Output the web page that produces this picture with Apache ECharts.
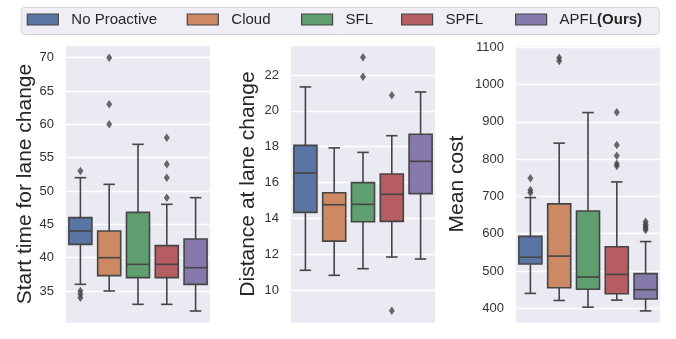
<!DOCTYPE html>
<html>
<head>
<meta charset="utf-8">
<script src="https://cdn.jsdelivr.net/npm/echarts@6/dist/echarts.min.js"></script>
<style>
  html, body { margin: 0; padding: 0; background: #fff; }
  #chart { width: 676px; height: 339px; }
</style>
</head>
<body>
<div id="chart"></div>
<script>
// methods (hue order)
var methods = ["No Proactive", "Cloud", "SFL", "SPFL", "APFL(Ours)"];
var colors = ["#5875A4", "#CC8963", "#5F9E6E", "#B55D60", "#857AAB"];

// each box: [lower whisker, Q1, median, Q3, upper whisker]
var startTimeBoxes = [
  [36, 42, 44, 46, 52],
  [35, 37.3, 40, 44, 51],
  [33, 37, 39, 46.8, 57],
  [33, 37, 39, 41.8, 48],
  [32, 36, 38.5, 42.8, 49]
];
var startTimeOutliers = [[53, 35, 34.5, 34], [70, 63, 60], [], [58, 54, 52, 49], []];

var distanceBoxes = [
  [11.1, 14.33, 16.53, 18.07, 21.33],
  [10.82, 12.73, 14.76, 15.43, 17.93],
  [11.19, 13.81, 14.78, 15.99, 17.68],
  [11.84, 13.83, 15.34, 16.47, 18.61],
  [11.73, 15.38, 17.18, 18.69, 21.05]
];
var distanceOutliers = [[], [], [22.99, 21.9], [20.87, 8.85], []];

var costBoxes = [
  [440, 519, 537, 593, 697],
  [421, 455, 540, 680, 843],
  [403, 451, 484, 661, 925],
  [422, 439, 491, 565, 739],
  [393, 425, 450, 493, 579]
];
var costOutliers = [[749, 717, 710], [1072, 1063], [], [926, 838, 809, 788, 782], [632, 625, 620, 615, 610]];

var yTitles = ["Start time for lane change", "Distance at lane change", "Mean cost"];
var yRanges = [[30.2, 71.9, 8, 5], [8.16, 23.67, 8, 2], [360.6, 1106.2, 7, 100]];
var nameGaps = [30, 32, 48];
var gridLefts = [66, 291, 516];

var lineColor = "#454545";
var fontFamily = "'Liberation Sans', Arial, sans-serif";

var chart = echarts.init(document.getElementById("chart"));

function renderBox(params, api) {
  var x = api.value(0);
  var band = api.size([1, 0])[0];
  var half = band * 0.4;
  var cap = band * 0.2;
  var lo = api.coord([x, api.value(1)]);
  var q1 = api.coord([x, api.value(2)]);
  var med = api.coord([x, api.value(3)]);
  var q3 = api.coord([x, api.value(4)]);
  var hi = api.coord([x, api.value(5)]);
  var cx = lo[0];
  var ls = { stroke: lineColor, lineWidth: 1.6 };
  return {
    type: "group",
    children: [
      { type: "line", shape: { x1: cx, y1: hi[1], x2: cx, y2: q3[1] }, style: ls },
      { type: "line", shape: { x1: cx, y1: q1[1], x2: cx, y2: lo[1] }, style: ls },
      { type: "line", shape: { x1: cx - cap, y1: hi[1], x2: cx + cap, y2: hi[1] }, style: ls },
      { type: "line", shape: { x1: cx - cap, y1: lo[1], x2: cx + cap, y2: lo[1] }, style: ls },
      { type: "rect", shape: { x: cx - half, y: q3[1], width: half * 2, height: q1[1] - q3[1] },
        style: { fill: api.visual("color"), stroke: lineColor, lineWidth: 1.6 } },
      { type: "line", shape: { x1: cx - half, y1: med[1], x2: cx + half, y2: med[1] }, style: ls }
    ]
  };
}

var panels = [
  { boxes: startTimeBoxes, outliers: startTimeOutliers },
  { boxes: distanceBoxes, outliers: distanceOutliers },
  { boxes: costBoxes, outliers: costOutliers }
];

var grids = [], xAxes = [], yAxes = [], series = [];
panels.forEach(function (p, k) {
  grids.push({
    left: gridLefts[k], width: 144, top: 45, bottom: 16,
    show: true, backgroundColor: "#EAEAF2", borderWidth: 0
  });
  xAxes.push({
    type: "category", gridIndex: k, data: methods, boundaryGap: true,
    axisLine: { show: false }, axisTick: { show: false }, axisLabel: { show: false },
    splitLine: { show: false }
  });
  var r = yRanges[k];
  yAxes.push({
    type: "value", gridIndex: k, min: r[0], max: r[1], splitNumber: r[2],
    name: yTitles[k], nameLocation: "middle", nameGap: nameGaps[k],
    nameTextStyle: { fontSize: 21, color: "#262626", fontFamily: fontFamily },
    axisLine: { show: false }, axisTick: { show: false },
    axisLabel: {
      fontSize: 13, color: "#333", margin: 12, fontFamily: fontFamily,
      showMinLabel: false, showMaxLabel: false,
      formatter: (function (step) {
        return function (v) { return Math.abs(v / step - Math.round(v / step)) < 1e-6 ? String(Math.round(v)) : ""; };
      })(r[3])
    },
    splitLine: { show: true, lineStyle: { color: "#fff", width: 1.3 } }
  });
  methods.forEach(function (m, i) {
    series.push({
      name: m, type: "custom", xAxisIndex: k, yAxisIndex: k,
      itemStyle: { color: colors[i] },
      renderItem: renderBox,
      encode: { x: 0, y: [1, 2, 3, 4, 5] },
      data: [[i].concat(p.boxes[i])],
      z: 2
    });
  });
  var pts = [];
  p.outliers.forEach(function (arr, i) {
    arr.forEach(function (v) { pts.push([i, v]); });
  });
  series.push({
    name: "outliers" + k, type: "scatter", xAxisIndex: k, yAxisIndex: k,
    symbol: "diamond", symbolSize: [6, 8.5],
    itemStyle: { color: lineColor },
    data: pts, z: 3, silent: true
  });
});

var legendIconX = [26.7, 186.7, 301, 401, 515];
var legends = methods.map(function (m, i) {
  return {
    data: [{ name: m, icon: "rect" }],
    left: legendIconX[i], top: 12,
    padding: 0, itemGap: 0, itemWidth: 31, itemHeight: 11,
    itemStyle: { borderColor: lineColor, borderWidth: 1.2 },
    selectedMode: false,
    formatter: function (name) {
      return name === "APFL(Ours)" ? "APFL{b|(Ours)}" : name;
    },
    textStyle: {
      fontSize: 15, color: "#262626", fontFamily: fontFamily, padding: [0, 0, 0, 8],
      rich: { b: { fontSize: 15, fontWeight: "bold", color: "#262626", fontFamily: fontFamily } }
    }
  };
});

chart.setOption({
  animation: false,
  textStyle: { fontFamily: fontFamily },
  graphic: [{
    type: "rect", left: 20.7, top: 7, z: -1,
    shape: { width: 638, height: 27, r: 3 },
    style: { fill: "#EEEEF4", stroke: "#D4D4DA", lineWidth: 1 }
  }],
  legend: legends,
  grid: grids,
  xAxis: xAxes,
  yAxis: yAxes,
  series: series
});
window.addEventListener("resize", function () { chart.resize(); });
</script>
</body>
</html>
